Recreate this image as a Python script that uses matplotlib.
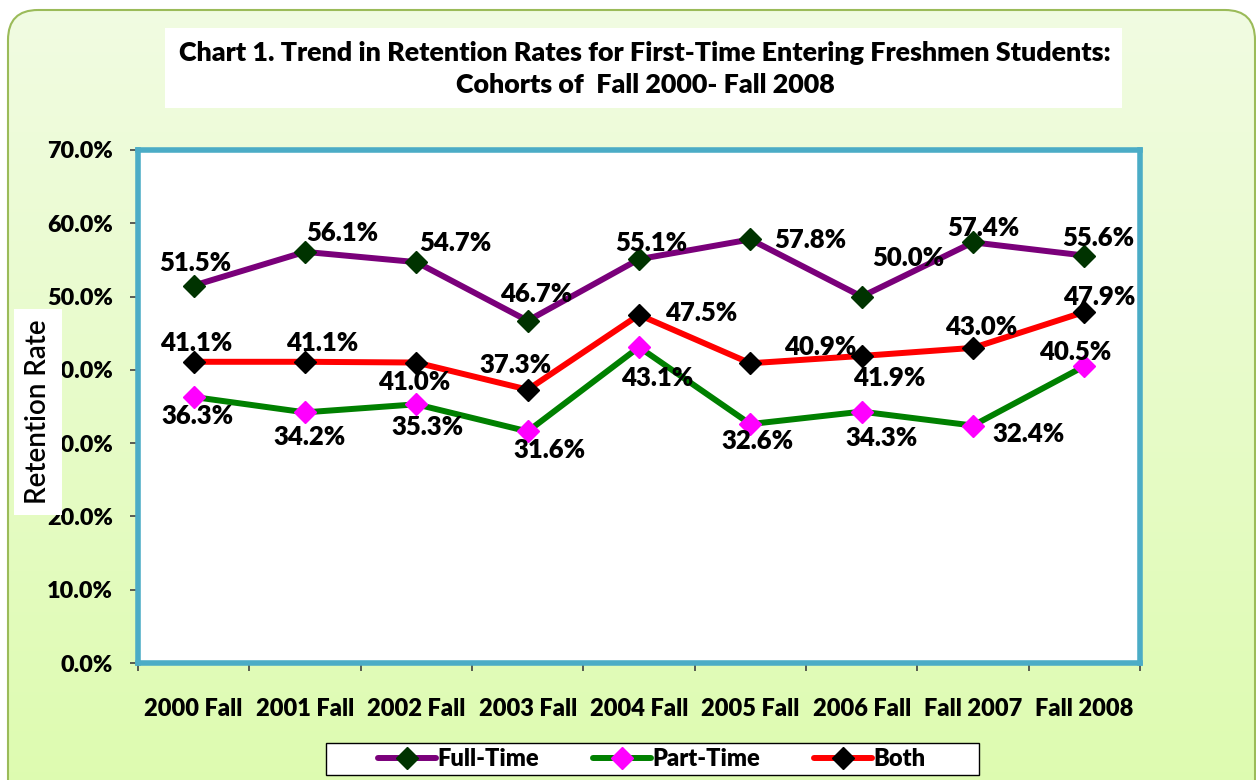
import numpy as np
import matplotlib
matplotlib.use("Agg")
import matplotlib.pyplot as plt
from matplotlib.patches import FancyBboxPatch, Rectangle

plt.rcParams['font.family'] = ['Lato', 'DejaVu Sans']
BOLD = "heavy"

# data
cohorts = ["2000 Fall", "2001 Fall", "2002 Fall", "2003 Fall", "2004 Fall",
           "2005 Fall", "2006 Fall", "Fall 2007", "Fall 2008"]
full_time = [51.5, 56.1, 54.7, 46.7, 55.1, 57.8, 50.0, 57.4, 55.6]
part_time = [36.3, 34.2, 35.3, 31.6, 43.1, 32.6, 34.3, 32.4, 40.5]
both = [41.1, 41.1, 41.0, 37.3, 47.5, 40.9, 41.9, 43.0, 47.9]

# label offsets in pixels (dx, dy up) from each point
full_off = [(2, 23), (37, 19), (39, 19), (8, 27), (12, 16), (60, -1), (47, 39), (10, 14), (14, 18)]
part_off = [(4, -19), (5, -25), (11, -23), (22, -19), (18, -31), (7, -17), (20, -26), (56, -8), (-9, 14)]
both_off = [(2, 19), (17, 19), (-2, -19), (-12, 25), (62, 2), (70, 16), (28, -22), (8, 21), (15, 15)]

W, H = 1256, 780
fig = plt.figure(figsize=(W / 100, H / 100), dpi=100)
fig.patch.set_facecolor("white")

# background panel with gradient
bg = fig.add_axes([0, 0, 1, 1])
bg.axis("off")
panel = FancyBboxPatch((8, 10), 1247, 820, boxstyle="round,pad=0,rounding_size=30",
                       facecolor="none", edgecolor="#9BBB59", linewidth=1.5, zorder=3)
bg.add_patch(panel)
grad = np.linspace(0, 1, 256).reshape(-1, 1)
top = np.array([0.945, 0.985, 0.885])
bot = np.array([0.865, 0.985, 0.680])
img = top + (bot - top) * grad[:, :, None]
im = bg.imshow(img, extent=(8, 1255, 830, 10), aspect="auto", zorder=1)
im.set_clip_path(panel)
bg.set_xlim(0, W)
bg.set_ylim(H, 0)
bg.add_patch(Rectangle((165, 28), 957, 80, facecolor="white", edgecolor="none", zorder=2))
# legend box
bg.add_patch(Rectangle((326, 743), 653, 32, facecolor="white", edgecolor="black",
                       linewidth=1.0, zorder=2))

fig.text(645 / W, 1 - 69 / H,
         "Chart 1. Trend in Retention Rates for First-Time Entering Freshmen Students:\nCohorts of  Fall 2000- Fall 2008",
         ha="center", va="center", fontsize=19.4, fontweight=BOLD, linespacing=1.36)

# main plot
ax = fig.add_axes([138 / W, 1 - 663 / H, 1002 / W, 513 / H])
ax.set_facecolor("white")
x = np.arange(len(cohorts))

series = [
    ("Full-Time", full_time, "#7A007A", "#003300", full_off),
    ("Part-Time", part_time, "#008000", "#FF00FF", part_off),
    ("Both", both, "#FF0000", "#000000", both_off),
]
for name, vals, lc, mc, offs in series:
    ax.plot(x, vals, color=lc, linewidth=4.3, marker="D", markersize=11,
            markerfacecolor=mc, markeredgecolor=mc, label=name, zorder=3,
            solid_capstyle="round")
    for xi, v, (dx, dy) in zip(x, vals, offs):
        ax.annotate(f"{v:.1f}%", (xi, v), xytext=(dx, dy), textcoords="offset pixels",
                    ha="center", va="center", fontsize=18.5, fontweight=BOLD, zorder=4)

ax.set_xlim(-0.5, len(cohorts) - 0.5)
ax.set_ylim(0, 70)
ax.set_yticks(np.arange(0, 71, 10))
ax.set_yticklabels([f"{t:.1f}%" for t in np.arange(0, 71, 10)])
ax.set_xticks(np.arange(-0.5, len(cohorts), 1))
ax.set_xticklabels([])
ax.set_xticks(x, minor=True)
ax.set_xticklabels(cohorts, minor=True)
ax.tick_params(axis="x", which="minor", length=0, pad=25, labelsize=17)
ax.tick_params(axis="x", which="major", length=6, width=1.2, color="#404040", direction="out")
ax.tick_params(axis="y", length=6, width=1.2, color="#404040", direction="out",
               labelsize=16.8, pad=12)
for lab in ax.get_xticklabels(minor=True) + ax.get_yticklabels():
    lab.set_fontweight(BOLD)
for s in ax.spines.values():
    s.set_color("#4BACC6")
    s.set_linewidth(4)

fig.text(38 / W, 1 - 412 / H, "Retention Rate", rotation=90, ha="center", va="center",
         fontsize=20, fontweight="semibold", zorder=10,
         bbox=dict(boxstyle="square,pad=0.4", facecolor="white", edgecolor="none"))

leg = fig.legend(loc="center", bbox_to_anchor=(652 / W, 1 - 759 / H), ncol=3,
                 fontsize=17, frameon=False, handlelength=2.45, handletextpad=0.05,
                 columnspacing=2.3, numpoints=1)
for t in leg.get_texts():
    t.set_fontweight(BOLD)

fig.savefig("out.png", dpi=100, facecolor="white")
